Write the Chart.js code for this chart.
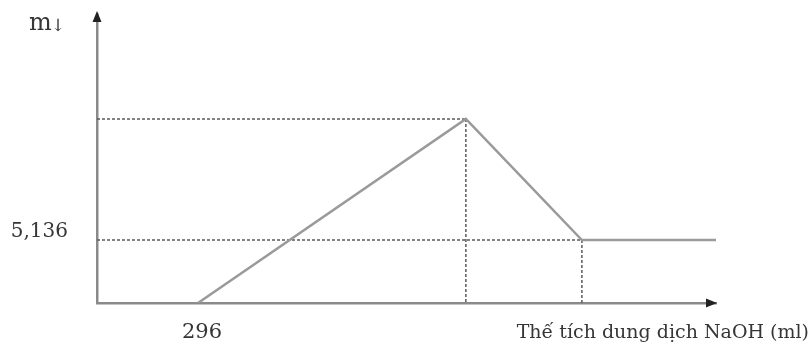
<!DOCTYPE html>
<html>
<head>
<meta charset="utf-8">
<script src="https://cdn.jsdelivr.net/npm/chart.js@4"></script>
<style>
html,body{margin:0;padding:0;background:#fff;}
#wrap{width:812px;height:343px;}
</style>
</head>
<body>
<div id="wrap"><canvas id="c" width="812" height="343"></canvas></div>
<script>
// ---- data ----
const volumes = [296, 1081, 1421, 1814];      // NaOH volume (ml)
const masses  = [0, 15.0, 5.136, 5.136];      // precipitate mass
const xTickValues = [296];
const yTickValues = [5.136];
const xAxisMax = 1814;
const yAxisMax = 23.56;
const xTitle = 'Thế tích dung dịch NaOH (ml)';
const yTitle = 'm';
const yTitleSub = '↓';

const TEXT = '#363636';
const FONT = 'DejaVu Serif';

const guides = {
  id: 'guides',
  beforeDatasetsDraw(chart) {
    const {ctx, chartArea, scales} = chart;
    const xs = scales.x, ys = scales.y;
    ctx.save();
    ctx.strokeStyle = '#5a5a5a';
    ctx.lineWidth = 1.5;
    ctx.setLineDash([3, 2]);
    [1, 2].forEach(i => {
      const px = xs.getPixelForValue(volumes[i]);
      const py = ys.getPixelForValue(masses[i]);
      ctx.beginPath();
      ctx.moveTo(chartArea.left, py);
      ctx.lineTo(px, py);
      ctx.moveTo(px, py);
      ctx.lineTo(px, chartArea.bottom);
      ctx.stroke();
    });
    ctx.restore();
  },
  afterDraw(chart) {
    const {ctx, chartArea} = chart;
    ctx.save();
    // arrows
    ctx.fillStyle = '#222';
    ctx.beginPath();
    ctx.moveTo(chartArea.left, chartArea.top - 3);
    ctx.lineTo(chartArea.left - 4.5, chartArea.top + 8);
    ctx.lineTo(chartArea.left + 4.5, chartArea.top + 8);
    ctx.closePath();
    ctx.fill();
    ctx.beginPath();
    ctx.moveTo(chartArea.right + 1, chartArea.bottom);
    ctx.lineTo(chartArea.right - 10, chartArea.bottom - 4.5);
    ctx.lineTo(chartArea.right - 10, chartArea.bottom + 4.5);
    ctx.closePath();
    ctx.fill();
    // axis titles
    ctx.fillStyle = TEXT;
    ctx.textBaseline = 'alphabetic';
    ctx.textAlign = 'right';
    ctx.font = '19px "' + FONT + '"';
    ctx.fillText(xTitle, chart.width - 3, chartArea.bottom + 35);
    ctx.textAlign = 'left';
    ctx.font = '24px "' + FONT + '"';
    ctx.fillText(yTitle, 29, 30);
    const mw = ctx.measureText(yTitle).width;
    ctx.font = '17px "' + FONT + '"';
    ctx.fillText(yTitleSub, 29 + mw - 1, 31);
    ctx.restore();
  }
};

new Chart(document.getElementById('c'), {
  type: 'scatter',
  data: {
    datasets: [{
      data: volumes.map((v, i) => ({x: v, y: masses[i]})),
      showLine: true,
      borderColor: '#9a9a9a',
      borderWidth: 2.5,
      pointRadius: 0,
      tension: 0,
      fill: false
    }]
  },
  options: {
    responsive: false,
    animation: false,
    events: [],
    layout: {padding: {top: 14, right: 96, left: 0, bottom: 0}},
    plugins: {legend: {display: false}, tooltip: {enabled: false}},
    scales: {
      x: {
        type: 'linear', min: 0, max: xAxisMax,
        afterBuildTicks: s => { s.ticks = xTickValues.map(v => ({value: v})); },
        afterFit: s => { s.height = 40; s.paddingLeft = 0; s.paddingRight = 0; },
        grid: {display: false, drawTicks: false},
        border: {display: true, color: '#8a8a8a', width: 2.5},
        ticks: {
          padding: 17, labelOffset: 4, color: TEXT, autoSkip: false, maxRotation: 0,
          font: {family: FONT, size: 21},
          callback: v => String(v)
        }
      },
      y: {
        type: 'linear', min: 0, max: yAxisMax,
        afterBuildTicks: s => { s.ticks = yTickValues.map(v => ({value: v})); },
        afterFit: s => { s.width = 97; s.paddingTop = 0; s.paddingBottom = 0; },
        grid: {display: false, drawTicks: false},
        border: {display: true, color: '#8a8a8a', width: 2.5},
        ticks: {
          padding: 29, labelOffset: -8, color: TEXT, autoSkip: false,
          font: {family: FONT, size: 20},
          callback: v => String(v).replace('.', ',')
        }
      }
    }
  },
  plugins: [guides]
});
</script>
</body>
</html>
